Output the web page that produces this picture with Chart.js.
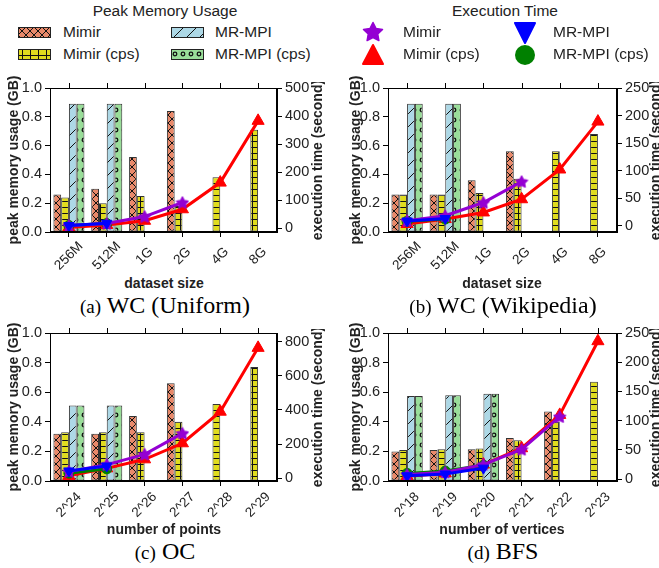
<!DOCTYPE html>
<html>
<head>
<meta charset="utf-8">
<script src="https://cdn.jsdelivr.net/npm/chart.js@4.4.1/dist/chart.umd.min.js"></script>
<style>
  body { margin: 0; width: 659px; height: 568px; position: relative; background: #fff; overflow: hidden;
         font-family: 'Liberation Sans', Arial, sans-serif; color: #222; }
  canvas.chart { position: absolute; }
  .t { position: absolute; white-space: nowrap; transform: translate(-50%, -50%); }
  .lt { position: absolute; white-space: nowrap; transform: translateY(-50%); font-size: 15.5px; }
  .ax { font-weight: bold; font-size: 14px; }
  .rot { transform: translate(-50%, -50%) rotate(-90deg); }
  .cap { font-family: 'Liberation Serif', 'Times New Roman', serif; font-size: 24px; color: #000; }
  .cap span { font-size: 19px; }
  .clip { position: absolute; overflow: hidden; }
  .sw { position: absolute; }
</style>
</head>
<body>

<!-- legends -->
<div class="t" style="left:165px;top:11px;font-size:15.5px">Peak Memory Usage</div>
<canvas class="sw" id="swMimir" width="33" height="11" style="left:18px;top:27px"></canvas>
<canvas class="sw" id="swMimirCps" width="33" height="11" style="left:18px;top:49px"></canvas>
<canvas class="sw" id="swMrmpi" width="33" height="11" style="left:171px;top:27px"></canvas>
<canvas class="sw" id="swMrmpiCps" width="33" height="11" style="left:171px;top:49px"></canvas>
<div class="lt" style="left:63px;top:32px">Mimir</div>
<div class="lt" style="left:63px;top:54px">Mimir (cps)</div>
<div class="lt" style="left:215px;top:32px">MR-MPI</div>
<div class="lt" style="left:215px;top:54px">MR-MPI (cps)</div>

<div class="t" style="left:505px;top:11px;font-size:15.5px">Execution Time</div>
<canvas class="sw" id="mkMimir" width="24" height="24" style="left:361px;top:20px"></canvas>
<canvas class="sw" id="mkMimirCps" width="24" height="24" style="left:361px;top:43px"></canvas>
<canvas class="sw" id="mkMrmpi" width="24" height="24" style="left:513px;top:21px"></canvas>
<canvas class="sw" id="mkMrmpiCps" width="24" height="24" style="left:513px;top:43px"></canvas>
<div class="lt" style="left:403px;top:32px">Mimir</div>
<div class="lt" style="left:403px;top:54px">Mimir (cps)</div>
<div class="lt" style="left:553px;top:32px">MR-MPI</div>
<div class="lt" style="left:553px;top:54px">MR-MPI (cps)</div>

<!-- charts -->
<canvas class="chart" id="chartA" width="330" height="200" style="left:0;top:75px"></canvas>
<canvas class="chart" id="chartB" width="329" height="200" style="left:330px;top:75px"></canvas>
<canvas class="chart" id="chartC" width="330" height="205" style="left:0;top:320px"></canvas>
<canvas class="chart" id="chartD" width="329" height="205" style="left:330px;top:320px"></canvas>

<!-- axis titles -->
<div class="t ax rot" style="left:13px;top:160px">peak memory usage (GB)</div>
<div class="t ax rot" style="left:355px;top:160px">peak memory usage (GB)</div>
<div class="t ax rot" style="left:13px;top:407px">peak memory usage (GB)</div>
<div class="t ax rot" style="left:355px;top:407px">peak memory usage (GB)</div>
<div class="clip" style="left:290px;top:82px;width:50px;height:200px"><div class="t ax rot" style="left:27px;top:78px">execution time (second)</div></div>
<div class="clip" style="left:630px;top:82px;width:29px;height:200px"><div class="t ax rot" style="left:25px;top:78px">execution time (second)</div></div>
<div class="clip" style="left:290px;top:329px;width:50px;height:200px"><div class="t ax rot" style="left:27px;top:78px">execution time (second)</div></div>
<div class="clip" style="left:630px;top:329px;width:29px;height:200px"><div class="t ax rot" style="left:25px;top:78px">execution time (second)</div></div>

<div class="t ax" style="left:164px;top:283px">dataset size</div>
<div class="t ax" style="left:502px;top:283px">dataset size</div>
<div class="t ax" style="left:164px;top:529px">number of points</div>
<div class="t ax" style="left:502px;top:529px">number of vertices</div>

<div class="t cap" style="left:165px;top:305px"><span>(a)</span> WC (Uniform)</div>
<div class="t cap" style="left:503px;top:305px"><span>(b)</span> WC (Wikipedia)</div>
<div class="t cap" style="left:165px;top:551px"><span>(c)</span> OC</div>
<div class="t cap" style="left:503px;top:551px"><span>(d)</span> BFS</div>

<script>
// (a) WC Uniform
const labelsA = ['256M', '512M', '1G', '2G', '4G', '8G'];
const memMimirA = [0.26, 0.30, 0.52, 0.84, null, null];
const memMimirCpsA = [0.24, 0.20, 0.25, 0.18, 0.38, 0.71];
const memMrmpiA = [0.89, 0.89, null, null, null, null];
const memMrmpiCpsA = [0.89, 0.89, null, null, null, null];
const timeMimirA = [10, 17, 42, 92, null, null];
const timeMimirCpsA = [3, 12, 27, 68, 163, 383];
const timeMrmpiA = [10, 18, null, null, null, null];
const timeMrmpiCpsA = [10, 17, null, null, null, null];

// (b) WC Wikipedia
const labelsB = ['256M', '512M', '1G', '2G', '4G', '8G'];
const memMimirB = [0.26, 0.26, 0.36, 0.56, null, null];
const memMimirCpsB = [0.26, 0.26, 0.27, 0.37, 0.56, 0.68];
const memMrmpiB = [0.89, 0.89, null, null, null, null];
const memMrmpiCpsB = [0.89, 0.89, null, null, null, null];
const timeMimirB = [9, 18, 42, 80, null, null];
const timeMimirCpsB = [3, 12, 24, 48, 102, 189];
const timeMrmpiB = [8.5, 13, null, null, null, null];
const timeMrmpiCpsB = [8, 12, null, null, null, null];

// (c) OC
const labelsC = ['2^24', '2^25', '2^26', '2^27', '2^28', '2^29'];
const memMimirC = [0.32, 0.32, 0.44, 0.66, null, null];
const memMimirCpsC = [0.33, 0.33, 0.33, 0.40, 0.52, 0.77];
const memMrmpiC = [0.51, 0.51, null, null, null, null];
const memMrmpiCpsC = [0.51, 0.51, null, null, null, null];
const timeMimirC = [40, 80, 140, 263, null, null];
const timeMimirCpsC = [14, 58, 111, 205, 390, 764];
const timeMrmpiC = [43, 72, null, null, null, null];
const timeMrmpiCpsC = [30, 55, null, null, null, null];

// (d) BFS
const labelsD = ['2^18', '2^19', '2^20', '2^21', '2^22', '2^23'];
const memMimirD = [0.20, 0.21, 0.215, 0.29, 0.47, null];
const memMimirCpsD = [0.21, 0.215, 0.22, 0.275, 0.40, 0.67];
const memMrmpiD = [0.575, 0.58, 0.59, null, null, null];
const memMrmpiCpsD = [0.575, 0.58, 0.59, null, null, null];
const timeMimirD = [8, 12, 25, 51, 107, null];
const timeMimirCpsD = [5, 10, 25, 53, 110, 236];
const timeMrmpiD = [6, 9, 19, null, null, null];
const timeMrmpiCpsD = [10, 14, 24, null, null, null];

const SALMON = '#E9896A', YELLOW = '#E0DC1E', LBLUE = '#ADD8E6', LGREEN = '#99DD99';
const PURPLE = '#9400D3', RED = '#FF0000', BLUE = '#0000FF', GREEN = '#008000';

function makePattern(bg, kind) {
  var c = document.createElement('canvas');
  var w = 8, h = 8;
  if (kind == 'diag') { w = 13; h = 13; }
  if (kind == 'dots') { w = 8; h = 10; }
  if (kind == 'grid') { w = 8; h = 6; }
  c.width = w; c.height = h;
  var g = c.getContext('2d');
  g.fillStyle = bg;
  g.fillRect(0, 0, w, h);
  g.strokeStyle = '#111';
  g.lineWidth = 1;
  g.beginPath();
  if (kind == 'cross') {
    g.moveTo(0, 0); g.lineTo(w, h);
    g.moveTo(0, h); g.lineTo(w, 0);
  } else if (kind == 'grid') {
    g.moveTo(0, 0.5); g.lineTo(w, 0.5);
    g.moveTo(4.5, 0); g.lineTo(4.5, h);
  } else if (kind == 'diag') {
    g.moveTo(0, h); g.lineTo(w, 0);
  } else if (kind == 'dots') {
    g.arc(4, 5, 1.8, 0, Math.PI * 2);
    g.lineWidth = 1.3;
  }
  g.stroke();
  return g.createPattern(c, 'repeat');
}

function starImage(size, color) {
  var c = document.createElement('canvas');
  c.width = size; c.height = size;
  var g = c.getContext('2d');
  var r = size / 2 - 1, ri = r * 0.5;
  g.beginPath();
  for (var i = 0; i < 10; i++) {
    var rad = i % 2 ? ri : r;
    var a = -Math.PI / 2 + i * Math.PI / 5;
    g.lineTo(size / 2 + rad * Math.cos(a), size / 2 + 0.5 + rad * Math.sin(a));
  }
  g.closePath();
  g.fillStyle = color;
  g.strokeStyle = color;
  g.lineJoin = 'round';
  g.lineWidth = 1.5;
  g.fill();
  g.stroke();
  return c;
}

const patMimir = makePattern(SALMON, 'cross');
const patMimirCps = makePattern(YELLOW, 'grid');
const patMrmpi = makePattern(LBLUE, 'diag');
const patMrmpiCps = makePattern(LGREEN, 'dots');
const starPoint = starImage(14, PURPLE);

// legend swatches
function drawSwatch(id, pat) {
  var g = document.getElementById(id).getContext('2d');
  g.fillStyle = pat;
  g.fillRect(0, 0, 33, 11);
  g.strokeStyle = '#222';
  g.lineWidth = 1;
  g.strokeRect(0.5, 0.5, 32, 10);
}
drawSwatch('swMimir', patMimir);
drawSwatch('swMimirCps', patMimirCps);
drawSwatch('swMrmpi', patMrmpi);
drawSwatch('swMrmpiCps', patMrmpiCps);

(function () {
  var g = document.getElementById('mkMimir').getContext('2d');
  g.drawImage(starImage(22, PURPLE), 1, 1);
  g = document.getElementById('mkMimirCps').getContext('2d');
  g.fillStyle = RED; g.strokeStyle = RED; g.lineJoin = 'round'; g.lineWidth = 2;
  g.beginPath(); g.moveTo(12, 2); g.lineTo(22, 21); g.lineTo(2, 21); g.closePath(); g.fill(); g.stroke();
  g = document.getElementById('mkMrmpi').getContext('2d');
  g.fillStyle = BLUE; g.strokeStyle = BLUE; g.lineJoin = 'round'; g.lineWidth = 2;
  g.beginPath(); g.moveTo(2, 2); g.lineTo(22, 2); g.lineTo(12, 22); g.closePath(); g.fill(); g.stroke();
  g = document.getElementById('mkMrmpiCps').getContext('2d');
  g.fillStyle = GREEN;
  g.beginPath(); g.arc(12, 12, 10, 0, Math.PI * 2); g.fill();
})();

const framePlugin = {
  id: 'frame',
  afterDraw(chart) {
    var ctx = chart.ctx, a = chart.chartArea, x = chart.scales.x;
    ctx.save();
    ctx.strokeStyle = '#000';
    ctx.lineWidth = 1;
    ctx.strokeRect(Math.round(a.left) + 0.5, Math.round(a.top) + 0.5,
                   Math.round(a.right - a.left) - 1, Math.round(a.bottom - a.top) - 1);
    ctx.beginPath();
    for (var i = 0; i < x.ticks.length; i++) {
      var px = Math.round(x.getPixelForTick(i)) + 0.5;
      ctx.moveTo(px, a.top);
      ctx.lineTo(px, a.top - 5);
    }
    ctx.stroke();
    ctx.fillStyle = '#222';
    ctx.font = '13.5px "Liberation Sans", Arial, sans-serif';
    ctx.textAlign = 'center';
    ctx.textBaseline = 'middle';
    var labels = chart.data.labels;
    for (var j = 0; j < labels.length; j++) {
      ctx.save();
      ctx.translate(x.getPixelForTick(j), a.bottom + 24);
      ctx.rotate(-Math.PI / 4);
      ctx.fillText(labels[j], 0, 0);
      ctx.restore();
    }
    ctx.restore();
  }
};

function barSet(label, data, pat) {
  return {
    type: 'bar', label: label, data: data, yAxisID: 'y', order: 10,
    backgroundColor: pat, borderColor: '#333', borderWidth: 1, borderSkipped: false,
    categoryPercentage: 0.82, barPercentage: 1.0
  };
}

function lineSet(label, data, color, style, radius, rotation, order) {
  return {
    type: 'line', label: label, data: data, yAxisID: 'y2', order: order,
    borderColor: color, backgroundColor: color, borderWidth: 3,
    pointStyle: style, pointRadius: radius, pointRotation: rotation,
    pointBackgroundColor: color, pointBorderColor: color, pointBorderWidth: 1,
    tension: 0, spanGaps: false
  };
}

function buildChart(id, labels, mem, time, y2, leftW, rightW, xH) {
  var tickFont = { family: '"Liberation Sans", Arial, sans-serif', size: 14.5 };
  var gridOpts = { display: true, drawOnChartArea: false, drawTicks: true, tickLength: 5, color: '#000', offset: false };
  new Chart(document.getElementById(id), {
    type: 'bar',
    data: {
      labels: labels,
      datasets: [
        barSet('Mimir', mem[0], patMimir),
        barSet('Mimir (cps)', mem[1], patMimirCps),
        barSet('MR-MPI', mem[2], patMrmpi),
        barSet('MR-MPI (cps)', mem[3], patMrmpiCps),
        lineSet('Mimir', time[0], PURPLE, starPoint, 7, 0, 2),
        lineSet('Mimir (cps)', time[1], RED, 'triangle', 7, 0, 4),
        lineSet('MR-MPI', time[2], BLUE, 'triangle', 6, 180, 1),
        lineSet('MR-MPI (cps)', time[3], GREEN, 'circle', 5, 0, 3)
      ]
    },
    options: {
      responsive: false,
      animation: false,
      layout: { padding: { top: 13, left: 0, right: 0, bottom: 0 } },
      plugins: { legend: { display: false }, tooltip: { enabled: false } },
      scales: {
        x: {
          type: 'category', offset: true,
          grid: gridOpts,
          border: { display: true, color: '#000' },
          ticks: { display: false },
          afterFit: function (s) { s.height = xH; }
        },
        y: {
          position: 'left', min: 0, max: 1,
          grid: gridOpts,
          border: { display: true, color: '#000' },
          ticks: { stepSize: 0.2, font: tickFont, color: '#222', padding: 3,
                   callback: function (v) { return v.toFixed(1); } },
          afterFit: function (s) { s.width = leftW; }
        },
        y2: {
          position: 'right', min: y2[0], max: y2[1],
          grid: gridOpts,
          border: { display: true, color: '#000' },
          ticks: { stepSize: y2[2], includeBounds: false, font: tickFont, color: '#222', padding: 3 },
          afterFit: function (s) { s.width = rightW; }
        }
      }
    },
    plugins: [framePlugin]
  });
}

buildChart('chartA', labelsA,
  [memMimirA, memMimirCpsA, memMrmpiA, memMrmpiCpsA],
  [timeMimirA, timeMimirCpsA, timeMrmpiA, timeMrmpiCpsA],
  [-13, 500, 100], 50, 53, 43);
buildChart('chartB', labelsB,
  [memMimirB, memMimirCpsB, memMrmpiB, memMrmpiCpsB],
  [timeMimirB, timeMimirCpsB, timeMrmpiB, timeMrmpiCpsB],
  [-11.5, 250, 50], 58, 42, 43);
buildChart('chartC', labelsC,
  [memMimirC, memMimirCpsC, memMrmpiC, memMrmpiCpsC],
  [timeMimirC, timeMimirCpsC, timeMrmpiC, timeMrmpiCpsC],
  [-16, 851, 100], 50, 53, 44);
buildChart('chartD', labelsD,
  [memMimirD, memMimirCpsD, memMrmpiD, memMrmpiCpsD],
  [timeMimirD, timeMimirCpsD, timeMrmpiD, timeMrmpiCpsD],
  [-3, 250, 50], 58, 42, 44);
</script>
</body>
</html>
